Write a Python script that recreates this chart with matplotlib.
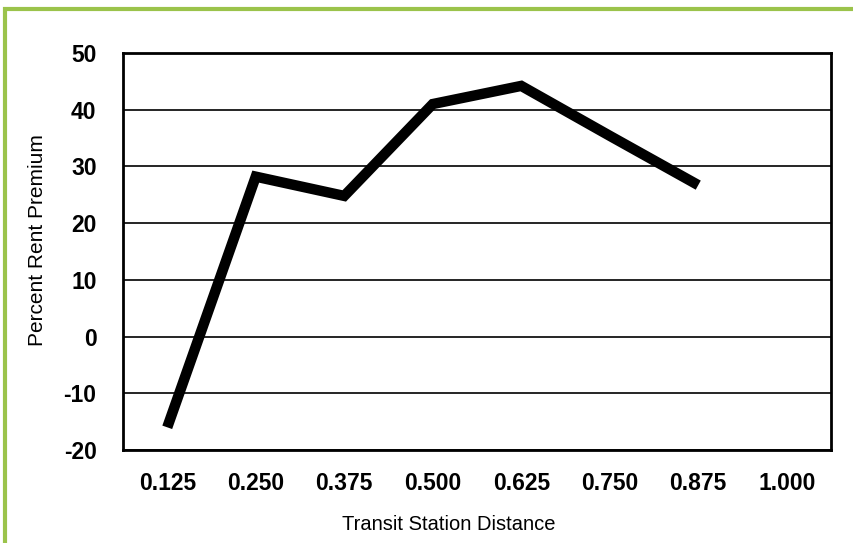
import matplotlib.pyplot as plt
from matplotlib.patches import Rectangle

plt.rcParams['font.family'] = ['Liberation Sans', 'DejaVu Sans']
plt.rcParams['axes.unicode_minus'] = False

# Data
distances = ['0.125', '0.250', '0.375', '0.500', '0.625', '0.750', '0.875', '1.000']
premium = [-16, 28.2, 24.8, 41, 44.2, 35.4, 26.7]

fig = plt.figure(figsize=(8.54, 5.43), dpi=100)
ax = fig.add_axes([123 / 854, 1 - 450 / 543, 708 / 854, 397 / 543])

x = [i + 0.5 for i in range(len(premium))]
ax.plot(x, premium, color='black', linewidth=7.5, solid_joinstyle='miter',
        solid_capstyle='butt', zorder=3)

ax.set_xlim(0, len(distances))
ax.set_ylim(-20, 50)
ax.set_xticks([i + 0.5 for i in range(len(distances))])
ax.set_xticklabels(distances)
ax.set_yticks(range(-20, 51, 10))
ax.tick_params(length=0, labelsize=16.5)
ax.tick_params(axis='x', pad=16)
ax.tick_params(axis='y', pad=19)
for lab in ax.get_xticklabels() + ax.get_yticklabels():
    lab.set_fontweight('bold')

ax.yaxis.grid(True, color='black', linewidth=1.2)
ax.set_axisbelow(True)
for s in ax.spines.values():
    s.set_linewidth(2)
    s.set_color('black')

ax.set_xlabel('Transit Station Distance', fontsize=14.5, labelpad=14)
ax.set_ylabel('Percent Rent Premium', fontsize=15, labelpad=12)
# labels sit a bit off-centre in the original
ax.xaxis.label.set_x(0.46)
ax.yaxis.label.set_y(0.53)

# green frame around the figure
fig.patches.append(Rectangle((5 / 854, -0.05), 1.2, 1 - 9 / 543 + 0.05,
                             transform=fig.transFigure, fill=False,
                             edgecolor='#9bc34b', linewidth=3))

fig.savefig('out.png', dpi=100)
